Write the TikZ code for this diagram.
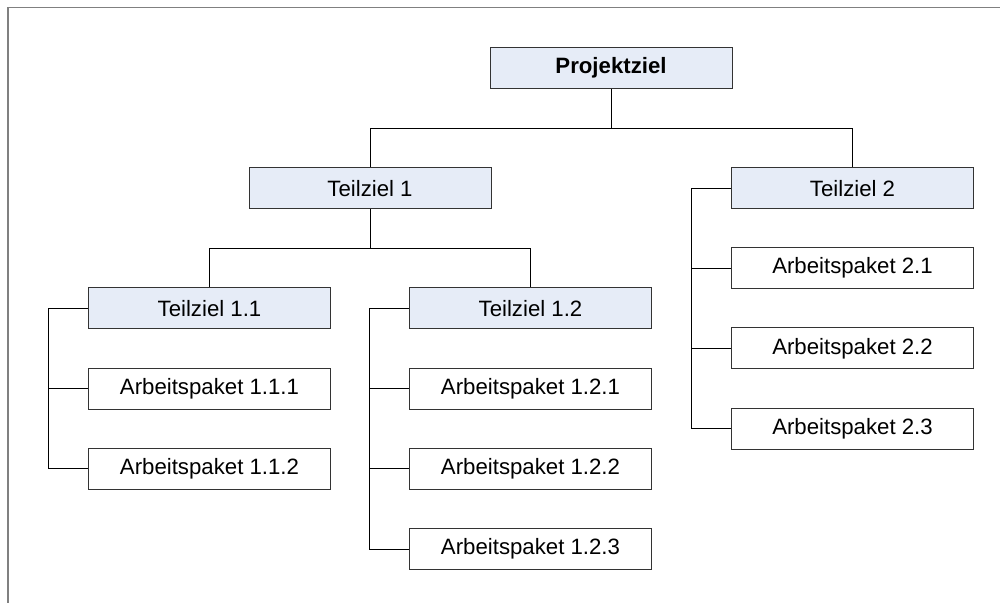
\documentclass[tikz,border=0pt]{standalone}
\usepackage{fontspec}
\setmainfont{Liberation Sans}
\usetikzlibrary{positioning,calc}
\definecolor{zielblau}{RGB}{230,236,247}

\begin{document}
\begin{tikzpicture}[
	box/.style={draw=black!80, line width=0.7pt, minimum width=6.05cm,
		minimum height=1.025cm, inner sep=0pt,
		font=\fontsize{15.8}{19}\selectfont},
	ziel/.style={box, fill=zielblau},
	paket/.style={box, fill=white},
	link/.style={black, line width=0.7pt}]
	\useasboundingbox (0,0) rectangle (25,-15.075);
	\draw[black!50, line width=1pt] (25,-0.19) -- (0.2,-0.19) -- (0.2,-15.075);

	\node[ziel, font=\fontsize{15.8}{19}\selectfont\bfseries] 
		  (PZ) at (15.275,-1.7) {Projektziel};
	\node[ziel] (T1) at (9.25,-4.71) {Teilziel 1};
	\node[ziel] (T2) at (21.3125,-4.71) {Teilziel 2};
	\node[ziel] (T11) at (5.2375,-7.71) {Teilziel 1.1};
	\node[ziel] (T12) at (13.2625,-7.71) {Teilziel 1.2};

	\node[paket] (A111) at (5.2375,-9.72) {Arbeitspaket 1.1.1};
	\node[paket] (A112) at (5.2375,-11.72) {Arbeitspaket 1.1.2};
	\node[paket] (A121) at (13.2625,-9.72) {Arbeitspaket 1.2.1};
	\node[paket] (A122) at (13.2625,-11.72) {Arbeitspaket 1.2.2};
	\node[paket] (A123) at (13.2625,-13.73) {Arbeitspaket 1.2.3};
	\node[paket] (A21) at (21.3125,-6.7) {Arbeitspaket 2.1};
	\node[paket] (A22) at (21.3125,-8.71) {Arbeitspaket 2.2};
	\node[paket] (A23) at (21.3125,-10.72) {Arbeitspaket 2.3};

	\draw[link] (PZ.south) -- ++(0,-1) coordinate (c0) -| (T1.north);
	\draw[link] (c0) -| (T2.north);
	\draw[link] (T1.south) -- ++(0,-0.975) coordinate (c1) -| (T11.north);
	\draw[link] (c1) -| (T12.north);

	\draw[link] (T11.west) -- ++(-1,0) coordinate (c11) |- (A112.west);
	\draw[link] (c11) |- (A111.west);
	\draw[link] (T12.west) -- ++(-1,0) coordinate (c12) |- (A123.west);
	\draw[link] (c12) |- (A121.west);
	\draw[link] (c12) |- (A122.west);
	\draw[link] (T2.west) -- ++(-1,0) coordinate (c2) |- (A23.west);
	\draw[link] (c2) |- (A21.west);
	\draw[link] (c2) |- (A22.west);
\end{tikzpicture}
\end{document}
